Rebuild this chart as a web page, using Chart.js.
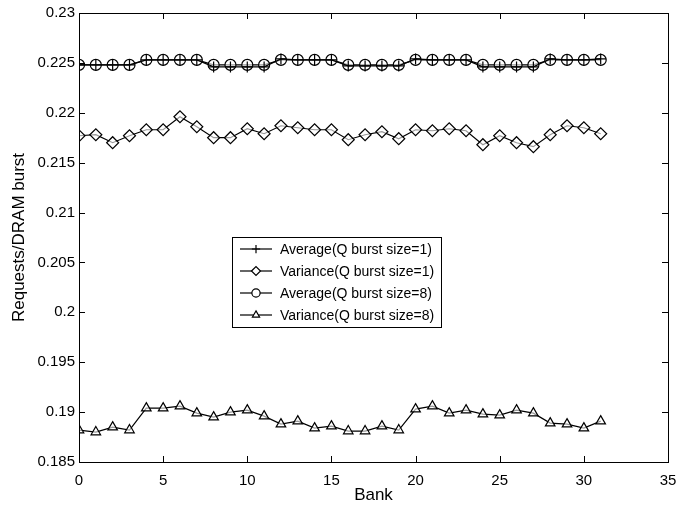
<!DOCTYPE html>
<html>
<head>
<meta charset="utf-8">
<script src="https://cdn.jsdelivr.net/npm/chart.js@4.4.1/dist/chart.umd.min.js"></script>
<style>
  html, body { margin: 0; padding: 0; background: #fff; }
  #wrap { width: 688px; height: 506px; }
</style>
</head>
<body>
<div id="wrap"><canvas id="chartBank"></canvas></div>
<script>
const banks = Array.from({ length: 32 }, (_, i) => i);

const avgBurst1 = [
  0.2248, 0.2248, 0.2248, 0.2248, 0.2253, 0.2253, 0.2253, 0.2253,
  0.2246, 0.2246, 0.2246, 0.2246, 0.2254, 0.2253, 0.2253, 0.2253,
  0.2247, 0.2247, 0.2247, 0.2247, 0.2254, 0.2253, 0.2253, 0.2253,
  0.2246, 0.2246, 0.2246, 0.2246, 0.2254, 0.2253, 0.2253, 0.2254
];
const varBurst1 = [
  0.2177, 0.2178, 0.2170, 0.2177, 0.2183, 0.2183, 0.2196, 0.2186,
  0.2175, 0.2175, 0.2184, 0.2179, 0.2187, 0.2185, 0.2183, 0.2183,
  0.2173, 0.2178, 0.2181, 0.2174, 0.2183, 0.2182, 0.2184, 0.2182,
  0.2168, 0.2177, 0.2170, 0.2166, 0.2178, 0.2187, 0.2185, 0.2179
];
const avgBurst8 = [
  0.2248, 0.2248, 0.2248, 0.2248, 0.2253, 0.2253, 0.2253, 0.2253,
  0.2248, 0.2248, 0.2248, 0.2248, 0.2253, 0.2253, 0.2253, 0.2253,
  0.2248, 0.2248, 0.2248, 0.2248, 0.2253, 0.2253, 0.2253, 0.2253,
  0.2248, 0.2248, 0.2248, 0.2248, 0.2253, 0.2253, 0.2253, 0.2253
];
const varBurst8 = [
  0.1882, 0.1880, 0.1885, 0.1882, 0.1904, 0.1904, 0.1906, 0.1899,
  0.1895, 0.1900, 0.1902, 0.1896, 0.1888, 0.1891, 0.1884, 0.1886,
  0.1881, 0.1881, 0.1886, 0.1882, 0.1903, 0.1906, 0.1899, 0.1902,
  0.1898, 0.1897, 0.1902, 0.1899, 0.1889, 0.1888, 0.1884, 0.1891
];

const seriesNames = [
  'Average(Q burst size=1)',
  'Variance(Q burst size=1)',
  'Average(Q burst size=8)',
  'Variance(Q burst size=8)'
];
const markerStyles = ['cross', 'rectRot', 'circle', 'triangle'];
const markerSizes = [5.5, 6, 5.5, 5.5];

const FONT = '"Liberation Sans", Arial, Helvetica, sans-serif';

const toPoints = (vals) => vals.map((v, i) => ({ x: banks[i], y: v }));

// inward ticks on all four sides + box frame
const frameTicks = {
  id: 'frameTicks',
  afterDatasetsDraw(chart) {
    const { ctx, chartArea: a, scales } = chart;
    ctx.save();
    ctx.strokeStyle = '#000';
    ctx.lineWidth = 1;
    const len = 6;
    scales.x.ticks.forEach((t) => {
      const px = Math.round(scales.x.getPixelForValue(t.value)) + 0.5;
      ctx.beginPath();
      ctx.moveTo(px, a.bottom); ctx.lineTo(px, a.bottom - len);
      ctx.moveTo(px, a.top); ctx.lineTo(px, a.top + len);
      ctx.stroke();
    });
    scales.y.ticks.forEach((t) => {
      const py = Math.round(scales.y.getPixelForValue(t.value)) + 0.5;
      ctx.beginPath();
      ctx.moveTo(a.left, py); ctx.lineTo(a.left + len, py);
      ctx.moveTo(a.right, py); ctx.lineTo(a.right - len, py);
      ctx.stroke();
    });
    ctx.strokeRect(Math.round(a.left) + 0.5, Math.round(a.top) + 0.5,
      Math.round(a.right - a.left), Math.round(a.bottom - a.top));
    ctx.restore();
  }
};

// legend box inside the plot
const boxLegend = {
  id: 'boxLegend',
  afterDraw(chart) {
    const { ctx } = chart;
    const x0 = 232, y0 = 237, w = 209, h = 90, rowH = 22;
    ctx.save();
    ctx.fillStyle = '#fff';
    ctx.fillRect(x0, y0, w, h);
    ctx.strokeStyle = '#000';
    ctx.lineWidth = 1;
    ctx.strokeRect(x0 + 0.5, y0 + 0.5, w, h);
    ctx.font = '14px ' + FONT;
    ctx.textBaseline = 'middle';
    seriesNames.forEach((name, i) => {
      const y = y0 + 12 + i * rowH;
      ctx.strokeStyle = '#000';
      ctx.lineWidth = 1.2;
      ctx.beginPath();
      ctx.moveTo(x0 + 8, y); ctx.lineTo(x0 + 40, y);
      ctx.stroke();
      ctx.fillStyle = '#fff';
      Chart.helpers.drawPoint(ctx, {
        pointStyle: markerStyles[i],
        radius: markerSizes[i] * 0.75,
        borderWidth: 1.2
      }, x0 + 24, y);
      ctx.fillStyle = '#000';
      ctx.fillText(name, x0 + 48, y + 1);
    });
    ctx.restore();
  }
};

const ctxBank = document.getElementById('chartBank');
new Chart(ctxBank, {
  type: 'line',
  data: {
    datasets: [avgBurst1, varBurst1, avgBurst8, varBurst8].map((vals, i) => ({
      label: seriesNames[i],
      data: toPoints(vals),
      borderColor: '#000',
      borderWidth: 1.2,
      backgroundColor: '#fff',
      pointStyle: markerStyles[i],
      pointRadius: markerSizes[i],
      pointBorderWidth: 1.2,
      pointBorderColor: '#000',
      pointBackgroundColor: i === 0 ? '#000' : 'rgba(255,255,255,0.6)',
      tension: 0,
      fill: false
    }))
  },
  options: {
    responsive: true,
    maintainAspectRatio: false,
    animation: false,
    layout: { padding: { top: 12, right: 20, left: 0, bottom: 0 } },
    plugins: {
      legend: { display: false },
      tooltip: { enabled: false }
    },
    scales: {
      x: {
        type: 'linear',
        min: 0,
        max: 35,
        grid: { display: false, drawTicks: false },
        border: { display: false },
        ticks: {
          stepSize: 5,
          color: '#000',
          padding: 10,
          maxRotation: 0,
          font: { family: FONT, size: 15 }
        },
        title: {
          display: true,
          text: 'Bank',
          color: '#000',
          padding: { top: 0, bottom: 0 },
          font: { family: FONT, size: 17 }
        },
        afterFit: (scale) => { scale.height = 44; }
      },
      y: {
        min: 0.185,
        max: 0.23,
        grid: { display: false, drawTicks: false },
        border: { display: false },
        ticks: {
          stepSize: 0.005,
          color: '#000',
          padding: 4,
          font: { family: FONT, size: 15 },
          callback: (v) => String(+v.toFixed(3))
        },
        title: {
          display: true,
          text: 'Requests/DRAM burst',
          color: '#000',
          padding: { top: 9, bottom: 4 },
          font: { family: FONT, size: 17 }
        },
        afterFit: (scale) => { scale.width = 79; }
      }
    }
  },
  plugins: [frameTicks, boxLegend]
});
</script>
</body>
</html>
